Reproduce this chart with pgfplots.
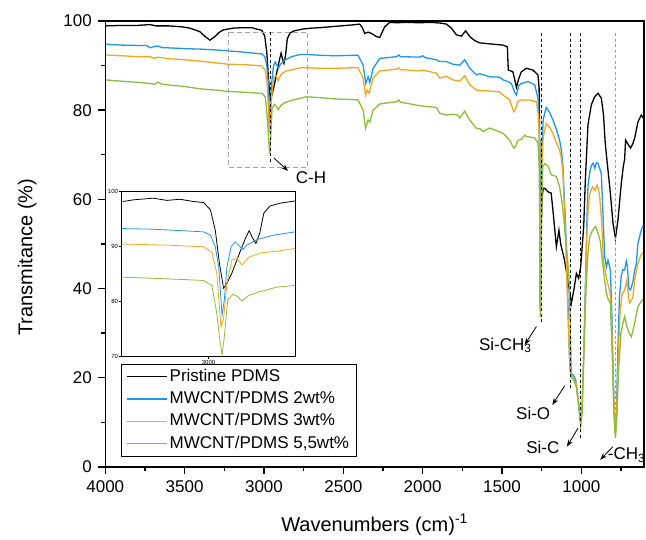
\documentclass[border=0pt]{standalone}
\usepackage{fontspec}
\setmainfont{Liberation Sans}
\usepackage{pgfplots}
\pgfplotsset{compat=1.18}
\usetikzlibrary{arrows.meta,calc}
\definecolor{cblue}{RGB}{30,150,240}
\definecolor{corange}{RGB}{240,168,30}
\definecolor{cgreen}{RGB}{140,188,60}
\newcommand{\fs}{\fontsize{17}{20}\selectfont}
\begin{document}
\begin{tikzpicture}
\begin{axis}[name=main, scale only axis, width=538.7pt, height=446pt,
  xmin=605, xmax=4000, x dir=reverse, ymin=0, ymax=100,
  xtick={1000,1500,...,4000}, minor xtick={750,1250,...,3750},
  ytick={0,20,...,100}, minor ytick={10,30,...,90},
  xtick pos=bottom, ytick pos=left, tick align=outside, major tick length=7pt, minor tick length=4pt,
  every tick/.style={black, line width=1.2pt},
  axis line style={line width=1.2pt},
  tick label style={font=\fs},
  xticklabel style={yshift=-3pt},
  yticklabel style={xshift=-3pt},
  /pgf/number format/assume math mode=true, /pgf/number format/1000 sep={},
  xlabel={Wavenumbers (cm)\textsuperscript{-1}}, ylabel={Transmitance (\%)},
  label style={font=\fontsize{20}{24}\selectfont},
  xlabel style={at={([yshift=-58pt]axis description cs:0.5,0)}, anchor=center},
  ylabel style={at={([xshift=-78pt]axis description cs:0,0.47)}, anchor=center},
  legend cell align=left,
  legend style={at={(0.0291,0.2309)}, anchor=north west, draw=black, line width=0.8pt,
    font=\fs, inner xsep=5pt, inner ysep=1pt,
    nodes={text height=13pt, text depth=4pt, inner ysep=2.7pt, inner xsep=2pt}},
  legend image code/.code={\draw[#1,line width=1.3pt] (0pt,0pt) -- (40pt,0pt);},
]
\addplot[black, line width=1.3pt] coordinates {
(4000,98.9) (3900,99.0) (3800,99.0) (3720,99.2) (3680,98.9) (3600,98.9) (3520,98.7) (3467,98.4) (3404,97.6) (3370,96.5) (3341,95.7) (3309,96.5) (3280,97.5) (3257,98.0) (3194,98.4) (3131,98.5) (3076,98.5) (3047,98.2) (3013,97.9) (2995,96.6) (2982,92.9) (2971,86.9) (2960,82.4) (2951,83.3) (2938,85.1) (2916,89) (2902,91.4) (2892,92.8) (2882,91.4) (2874,90.5) (2864,92.3) (2853,96) (2836,97.3) (2809,97.8) (2780,98.0) (2755,98.2) (2700,98.4) (2648,98.5) (2550,98.8) (2450,99.1) (2397,99.3) (2380,98.5) (2365,97.2) (2344,97.5) (2322,97.2) (2291,96.5) (2270,96.3) (2255,97.5) (2239,98.7) (2207,99.7) (2165,99.6) (2100,99.7) (2020,99.6) (1950,99.7) (1880,99.5) (1850,99.3) (1819,98.4) (1787,96.9) (1756,96.6) (1729,97.8) (1703,96.5) (1672,95.6) (1641,95.1) (1557,94.8) (1493,94.6) (1466,94.2) (1462,90.5) (1460,89.0) (1431,88.6) (1409,85.1) (1395,87) (1378,88.6) (1346,89.4) (1305,89.0) (1273,87.9) (1266,85) (1262,70) (1258,36) (1254,50) (1248,60) (1240,62.5) (1231,62.5) (1210,61.7) (1190,61.4) (1179,57.6) (1157,49.4) (1141,53.1) (1130,50) (1106,46.4) (1085,41.9) (1063,36.7) (1047,39.7) (1031,43.4) (1017,42.3) (1004,44.9) (985,53.9) (975,64) (958,76.7) (937,81.2) (916,83.0) (895,83.8) (874,82.7) (860,78.9) (850,73) (842,70) (832,66.6) (817,61.4) (800,54.6) (785,51.3) (769,55.4) (748,63.6) (735,67.5) (727,69) (721,73.3) (706,72.4) (690,71.5) (675,72.5) (664,73.7) (643,77.4) (622,78.9) (608,78.2)};
\addlegendentry{Pristine PDMS}
\addplot[cblue, line width=1.3pt] coordinates {
(4000,94.8) (3900,94.6) (3780,94.5) (3739,94.5) (3718,94.0) (3690,94.3) (3668,94.4) (3640,94.0) (3613,94.0) (3500,93.8) (3404,93.7) (3300,93.5) (3225,93.3) (3150,93.1) (3067,92.8) (3013,92.6) (2995,92.0) (2982,89.9) (2973,86.3) (2964,77.5) (2958,80.3) (2951,86.3) (2940,89.9) (2929,90.8) (2916,89.9) (2909,89.4) (2898,90.2) (2871,91.2) (2827,92.0) (2769,92.5) (2732,92.5) (2640,92.3) (2543,92.2) (2450,92.3) (2407,92.3) (2375,90.1) (2358,86.0) (2344,87.5) (2333,86.2) (2312,89.4) (2270,91.6) (2165,92.0) (2150,92.4) (2140,92.0) (2018,91.9) (2000,92.2) (1985,91.8) (1913,91.3) (1892,90.9) (1850,90.9) (1809,90.3) (1766,90.1) (1735,91.3) (1703,89.4) (1661,87.9) (1641,88.2) (1578,87.5) (1515,87.4) (1493,86.8) (1462,86.4) (1441,86.0) (1420,84.0) (1409,83.4) (1395,85.5) (1378,86.0) (1336,86.4) (1294,85.7) (1273,82.7) (1266,78) (1262,65) (1258,35.5) (1254,52) (1248,72) (1240,78) (1221,80.6) (1200,79.5) (1179,77.8) (1160,76) (1137,73.3) (1125,71) (1116,67.5) (1100,55) (1085,38) (1075,25) (1065,21) (1050,20.6) (1035,19.5) (1020,15) (1004,10.3) (995,14) (985,25) (975,40) (965,55) (958,63) (945,66.5) (935,67.7) (925,68.1) (915,67) (905,68.2) (895,68.1) (885,67) (874,65.8) (865,58) (853,47.2) (842,44.9) (832,46.4) (817,44.2) (808,35) (800,22) (792,12) (785,7.5) (778,13) (770,26) (760,38) (748,43) (738,44.2) (727,44.2) (717,46.2) (710,45) (700,40) (690,39.7) (675,41.5) (664,44) (653,45.7) (644,50) (633,51.6) (622,53.1) (612,53.9) (605,53.6)};
\addlegendentry{MWCNT/PDMS 2wt\%}
\addplot[corange, line width=1.3pt] coordinates {
(4000,92.4) (3900,92.2) (3780,92.0) (3718,92.0) (3690,91.6) (3668,91.9) (3613,91.6) (3500,91.3) (3404,91.0) (3300,90.6) (3225,90.3) (3111,90.2) (3013,89.9) (2991,88.9) (2978,85.1) (2967,75.4) (2960,76.9) (2951,83.3) (2938,87.5) (2924,87.8) (2911,86.6) (2893,88.0) (2862,88.8) (2818,89.1) (2769,89.5) (2732,89.5) (2640,89.4) (2543,89.4) (2450,89.5) (2407,89.5) (2375,87.2) (2360,83.4) (2350,84.5) (2338,83.8) (2312,87.2) (2270,88.8) (2165,89.2) (2150,89.5) (2140,89.1) (2018,88.8) (2000,89.0) (1913,88.3) (1892,87.2) (1850,87.6) (1809,86.8) (1766,86.5) (1735,87.7) (1703,85.7) (1661,84.5) (1641,84.4) (1578,84.3) (1515,84.1) (1493,83.4) (1452,82.3) (1426,79.7) (1415,80.2) (1400,82) (1378,82.3) (1326,82.3) (1284,81.9) (1273,79.7) (1266,75) (1262,62) (1258,35) (1254,50) (1248,68) (1240,74) (1221,77) (1200,76.2) (1179,74.8) (1160,73) (1137,71.1) (1125,69) (1116,66) (1100,52) (1085,35) (1072,22) (1063,20.1) (1045,19.5) (1030,18.5) (1015,14) (1004,9.8) (995,13) (985,25) (975,38) (965,52) (955,59) (945,61.5) (930,62.8) (915,62) (900,63.2) (885,61) (872,55) (860,46) (847,43.5) (835,41.3) (825,40) (815,38) (805,28) (795,15) (785,7.3) (775,15) (765,27) (755,35) (745,38.5) (738,39) (727,39.7) (713,41.9) (700,37.5) (696,36.8) (685,37.4) (675,38) (664,42) (644,45.5) (625,47.5) (612,48.0) (605,48.3)};
\addlegendentry{MWCNT/PDMS 3wt\%}
\addplot[cgreen, line width=1.3pt] coordinates {
(4000,86.8) (3900,86.5) (3780,86.2) (3718,86.0) (3690,85.8) (3668,86.3) (3640,85.8) (3613,85.7) (3500,85.3) (3404,84.8) (3300,84.5) (3225,84.2) (3111,84.0) (3026,83.8) (3013,83.8) (2991,82.9) (2978,77.8) (2971,73.6) (2964,70.3) (2958,73.6) (2949,80.3) (2935,81.3) (2923,80.9) (2911,80.1) (2893,81.1) (2862,81.8) (2816,82.3) (2732,83.0) (2640,82.8) (2543,82.5) (2450,82.4) (2407,82.3) (2375,80.0) (2360,75.9) (2344,77.8) (2333,77.3) (2312,80.0) (2270,81.4) (2165,81.9) (2150,82.3) (2140,81.8) (2018,81.0) (1913,80.6) (1892,79.3) (1850,78.9) (1809,79.1) (1777,78.9) (1766,78.2) (1735,79.8) (1703,77.8) (1661,75.9) (1641,75.9) (1620,75.2) (1578,76.0) (1535,75.4) (1493,74.8) (1452,73.3) (1426,71.5) (1415,71.8) (1400,73.2) (1378,73.5) (1357,74.4) (1346,74.1) (1294,73.8) (1273,72.6) (1266,68) (1262,55) (1258,33.6) (1254,48) (1248,62) (1242,67.5) (1230,68.0) (1210,67.5) (1189,65.5) (1170,65.3) (1157,65.1) (1137,62.8) (1120,59) (1106,53.9) (1090,48) (1078,42.7) (1068,30) (1063,20.5) (1045,19.3) (1030,17.8) (1015,13) (1004,9.2) (995,12) (985,24) (970,40) (958,48) (947,51.6) (930,53.0) (910,53.9) (895,52.5) (880,50.5) (867,46.0) (853,42.0) (842,39.0) (830,37.5) (817,36.8) (805,25) (795,12) (785,6.5) (775,12) (765,22) (750,30) (738,32.2) (727,33.7) (713,31.5) (700,30.2) (685,29.2) (675,30.5) (664,32.2) (644,35.9) (622,37.2) (612,37.5) (605,37.8)};
\addlegendentry{MWCNT/PDMS 5,5wt\%}
\end{axis}
\begin{axis}[name=anno, at={(main.south west)}, anchor=south west, scale only axis, width=538.7pt, height=446pt,
  xmin=605, xmax=4000, x dir=reverse, ymin=0, ymax=100, clip=false,
  xtick=\empty, ytick=\empty, axis line style={line width=1.2pt}]
\addplot[draw=none] coordinates {(1000,50)};
\draw[gray!70, line width=1pt, dash pattern=on 5pt off 3pt] (axis cs:3221,97.5) rectangle (axis cs:2724,67.1);
\draw[black, line width=0.9pt, dash pattern=on 3pt off 2.5pt] (axis cs:2957,97.5) -- (axis cs:2957,68.2);
\draw[black, line width=0.9pt, dash pattern=on 3pt off 2.5pt] (axis cs:1252,97.3) -- (axis cs:1252,32.6);
\draw[black, line width=0.9pt, dash pattern=on 3pt off 2.5pt] (axis cs:1067,97.3) -- (axis cs:1067,17.3);
\draw[black, line width=0.9pt, dash pattern=on 3pt off 2.5pt] (axis cs:1004,97.3) -- (axis cs:1004,6.5);
\draw[gray!75, line width=1.4pt, dash pattern=on 3pt off 2.5pt] (axis cs:784,97.3) -- (axis cs:784,6.8);
\draw[-{Stealth[length=7pt,width=5pt]}, line width=0.8pt] (axis cs:2938,69.3) -- (axis cs:2848,66.4);
\draw[-{Stealth[length=7pt,width=5pt]}, line width=0.8pt] (axis cs:1283,31.5) -- (axis cs:1357,27.4);
\draw[-{Stealth[length=7pt,width=5pt]}, line width=0.8pt] (axis cs:1105,18.2) -- (axis cs:1183,13.9);
\draw[-{Stealth[length=7pt,width=5pt]}, line width=0.8pt] (axis cs:1021,8.7) -- (axis cs:1091,4.55);
\draw[-{Stealth[length=7pt,width=5pt]}, line width=0.8pt] (axis cs:801,4.55) -- (axis cs:881,1.6);
\node[anchor=west, inner sep=0pt, font=\fs] at (axis cs:2800,64.8) {C-H};
\node[anchor=base east, inner sep=0pt, font=\fs] at (axis cs:1313,26.2) {Si-CH\textsubscript{3}};
\node[anchor=base east, inner sep=0pt, font=\fs] at (axis cs:1195,10.7) {Si-O};
\node[anchor=base east, inner sep=0pt, font=\fs] at (axis cs:1137,3.1) {Si-C};
\node[anchor=base west, inner sep=0pt, font=\fs] at (axis cs:834,1.6) {-CH\textsubscript{3}};
\end{axis}
\begin{axis}[name=inset, at={($(main.south west)+(16.4pt,110.3pt)$)}, anchor=south west,
  scale only axis, width=173.3pt, height=165.7pt,
  xmin=2770, xmax=3231, x dir=reverse, ymin=70, ymax=100,
  xtick={3000}, ytick={70,80,90,100},
  tick label style={font=\fontsize{6}{7}\selectfont, inner sep=1pt},
  /pgf/number format/assume math mode=true, /pgf/number format/1000 sep={},
  xtick pos=bottom, ytick pos=left, tick align=outside, major tick length=2.5pt,
  every tick/.style={black, line width=0.6pt},
  axis line style={line width=0.7pt},
]
\addplot[black, line width=0.8pt] coordinates {
(3227,98.1) (3200,98.4) (3147,98.7) (3111,98.3) (3076,98.5) (3040,98.1) (3013,97.9) (2995,96.6) (2982,92.9) (2971,86.9) (2960,82.4) (2951,83.3) (2938,85.1) (2916,89) (2902,91.4) (2892,92.8) (2882,91.4) (2874,90.5) (2864,92.3) (2853,96) (2836,97.3) (2809,97.8) (2770,98.2)};
\addplot[cblue, line width=0.8pt] coordinates {
(3231,93.2) (3155,93.1) (3067,92.8) (3013,92.6) (2995,92.0) (2982,89.9) (2973,86.3) (2964,77.5) (2958,80.3) (2951,86.3) (2940,89.9) (2929,90.8) (2916,89.9) (2909,89.4) (2898,90.2) (2871,91.2) (2827,92.0) (2770,92.6)};
\addplot[corange, line width=0.8pt] coordinates {
(3231,90.4) (3111,90.2) (3013,89.9) (2991,88.9) (2978,85.1) (2967,75.4) (2960,76.9) (2951,83.3) (2938,87.5) (2924,87.8) (2911,86.6) (2893,88.0) (2862,88.8) (2818,89.1) (2770,89.6)};
\addplot[cgreen, line width=0.8pt] coordinates {
(3231,84.4) (3111,84.1) (3013,83.8) (2991,82.9) (2978,77.8) (2971,73.6) (2964,70.3) (2958,73.6) (2949,80.3) (2935,81.3) (2923,80.9) (2911,80.1) (2893,81.1) (2862,81.8) (2818,82.6) (2770,82.9)};
\end{axis}
% axis tick marks drawn at picture level
\foreach \v in {1000,1500,...,4000}
  \draw[black, line width=1.4pt] ($(main.south west)!{(4000-\v)/3395}!(main.south east)$) -- ++(0pt,-7pt);
\foreach \v in {750,1250,...,3750}
  \draw[black, line width=1.4pt] ($(main.south west)!{(4000-\v)/3395}!(main.south east)$) -- ++(0pt,-4.5pt);
\foreach \v in {0,20,...,100}
  \draw[black, line width=1.4pt] ($(main.south west)!{\v/100}!(main.north west)$) -- ++(-7pt,0pt);
\foreach \v in {10,30,...,90}
  \draw[black, line width=1.4pt] ($(main.south west)!{\v/100}!(main.north west)$) -- ++(-4.5pt,0pt);
\pgfresetboundingbox
\path[use as bounding box] ($(main.south west)+(-105.3pt,-73pt)$) rectangle ++(646pt,540pt);
\end{tikzpicture}
\end{document}
